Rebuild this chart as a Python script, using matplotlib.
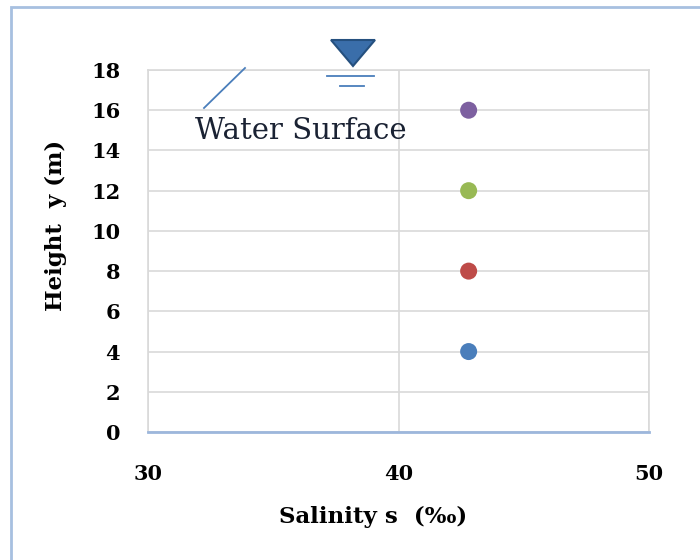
import matplotlib.pyplot as plt
from matplotlib.patches import Rectangle, Polygon
from matplotlib.lines import Line2D

plt.rcParams['font.family'] = ['DejaVu Serif']

# data
salinity = [42.8, 42.8, 42.8, 42.8]
height = [4, 8, 12, 16]
colors = ['#4A7EBB', '#BE4B48', '#98B954', '#7D60A0']
xticks = [30, 40, 50]
yticks = list(range(0, 19, 2))

fig = plt.figure(figsize=(7, 5.6), dpi=100)
ax = fig.add_axes([148/700, 1-432/560, 501/700, 362/560])

ax.scatter(salinity, height, s=150, c=colors, zorder=3, linewidths=0)

ax.set_xlim(30, 50)
ax.set_ylim(0, 18)
ax.set_xticks(xticks)
ax.set_yticks(yticks)
ax.grid(True, color='#D9D9D9', linewidth=1.2)
ax.set_axisbelow(True)
ax.tick_params(length=0, labelsize=15)
ax.tick_params(axis='x', pad=23)
ax.tick_params(axis='y', pad=20)
for lab in ax.get_xticklabels() + ax.get_yticklabels():
    lab.set_fontweight('bold')

for s in ['top', 'right', 'left']:
    ax.spines[s].set_color('#D9D9D9')
    ax.spines[s].set_linewidth(1.2)
ax.spines['bottom'].set_color('#9DB7DC')
ax.spines['bottom'].set_linewidth(2)

ax.set_xlabel('Salinity s  (‰)', fontsize=16.5, fontweight='bold', labelpad=16, x=0.45)
ax.set_ylabel('Height  y (m)', fontsize=16.5, fontweight='bold', labelpad=17, y=0.57)

# water surface symbol
tri = Polygon([(331/700, 1-40/560), (375/700, 1-40/560), (353/700, 1-66/560)],
              closed=True, facecolor='#3A6EAA', edgecolor='#25507F', linewidth=1.5,
              transform=fig.transFigure)
fig.add_artist(tri)
fig.add_artist(Line2D([327/700, 374/700], [1-76/560, 1-76/560], color='#4A7EBB', lw=1.3))
fig.add_artist(Line2D([340/700, 364/700], [1-86/560, 1-86/560], color='#4A7EBB', lw=1.3))
fig.add_artist(Line2D([204/700, 245/700], [1-108/560, 1-68/560], color='#4A7EBB', lw=1.3))
fig.text(301/700, 1-131/560, 'Water Surface', fontsize=21, color='#1A2233',
         ha='center', va='center')

# outer chart border
fig.add_artist(Rectangle((11/700, -0.01), 1.0, 1-7/560 + 0.01, fill=False,
                         edgecolor='#A7C0E0', linewidth=2, transform=fig.transFigure))

fig.savefig('out.png', dpi=100)
